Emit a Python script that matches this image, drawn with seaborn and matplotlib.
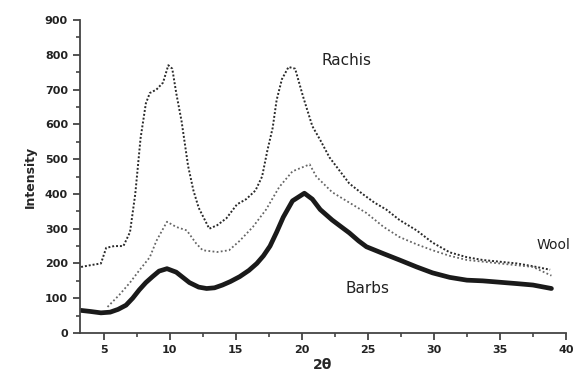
import numpy as np
import pandas as pd
import matplotlib
matplotlib.use('Agg')
import matplotlib.pyplot as plt
from matplotlib.ticker import MultipleLocator
import seaborn as sns

# values
rachis_x = [3.3, 4.0, 4.8, 5.2, 5.8, 6.5, 7.0, 7.4, 7.8, 8.2, 8.5, 9.0, 9.5, 9.9, 10.2,
            10.5, 10.9, 11.4, 11.8, 12.2, 12.6, 13.0, 13.6, 14.3, 15.1, 15.8, 16.5, 17.0,
            17.4, 17.8, 18.1, 18.5, 19.0, 19.5, 20.1, 20.8, 21.4, 22.1, 22.9, 23.6, 24.6,
            25.5, 26.4, 27.4, 28.7, 29.9, 31.2, 32.5, 33.7, 35.0, 36.3, 37.5, 38.8]
rachis_y = [190, 195, 200, 245, 250, 250, 290, 400, 560, 660, 690, 700, 720, 770, 760,
            690, 610, 480, 410, 360, 330, 300, 310, 330, 370, 385, 410, 450,
            525, 590, 670, 730, 765, 760, 680, 595, 555, 505, 465, 430, 400,
            375, 355, 325, 295, 260, 232, 218, 210, 205, 200, 192, 182]

wool_x = [5.3, 6.2, 7.0, 7.7, 8.5, 9.0, 9.8, 10.5, 11.3, 12.0, 12.5, 13.6, 14.5, 15.3,
          16.3, 17.3, 18.3, 19.3, 20.6, 21.1, 22.3, 23.6, 24.9, 26.2, 27.4, 28.7, 29.9,
          31.2, 32.5, 35.0, 37.5, 38.9]
wool_y = [75, 110, 145, 180, 218, 265, 320, 305, 295, 258, 238, 233, 238, 265,
          305, 355, 420, 465, 485, 450, 405, 375, 345, 305, 276, 255, 238,
          222, 210, 200, 190, 165]

barbs_x = [3.3, 4.0, 4.8, 5.5, 6.1, 6.7, 7.2, 7.7, 8.2, 8.7, 9.2, 9.8, 10.5, 11.0, 11.5,
           12.2, 12.8, 13.4, 14.0, 14.6, 15.3, 16.0, 16.6, 17.1, 17.6, 18.1, 18.6, 19.3,
           20.2, 20.8, 21.4, 22.3, 23.0, 23.6, 24.3, 24.9, 26.2, 27.4, 28.7, 29.9, 31.2,
           32.5, 33.7, 35.0, 36.3, 37.5, 38.9]
barbs_y = [65, 62, 58, 60, 68, 80, 100, 124, 145, 162, 178, 185, 175, 160, 145,
           132, 128, 130, 138, 148, 162, 180, 200, 222, 250, 290, 333, 380,
           402, 385, 355, 325, 305, 288, 265, 248, 228, 210, 190, 173, 160,
           152, 150, 146, 142, 138, 128]

sns.set_style('ticks')
plt.rcParams['font.family'] = ['DejaVu Sans']

fig = plt.figure(figsize=(5.74, 3.78), dpi=100)
ax = fig.add_axes([0.139, 0.119, 0.847, 0.828])

sns.lineplot(x=rachis_x, y=rachis_y, ax=ax, color='#2a2a2a', lw=1.4, linestyle=(0, (1, 1)))
sns.lineplot(x=wool_x, y=wool_y, ax=ax, color='#666666', lw=1.3, linestyle=(0, (1, 1.3)))
sns.lineplot(x=barbs_x, y=barbs_y, ax=ax, color='#1a1a1a', lw=3.4)

ax.set_xlim(3.2, 40)
ax.set_ylim(0, 900)
ax.xaxis.set_major_locator(MultipleLocator(5))
ax.xaxis.set_minor_locator(MultipleLocator(2.5))
ax.yaxis.set_major_locator(MultipleLocator(100))
ax.yaxis.set_minor_locator(MultipleLocator(50))
ax.tick_params(which='major', length=5, width=1.3, colors='#444444', labelcolor='#222222',
               labelsize=8)
ax.tick_params(which='minor', length=3, width=1.2, colors='#444444')
for lab in ax.get_xticklabels() + ax.get_yticklabels():
    lab.set_fontweight('bold')
sns.despine(ax=ax)
for s in ['left', 'bottom']:
    ax.spines[s].set_linewidth(1.3)
    ax.spines[s].set_color('#444444')

ax.set_xlabel('2θ', fontsize=10, fontweight='bold', labelpad=2)
ax.set_ylabel('Intensity', fontsize=9, fontweight='bold', labelpad=6)

ax.text(23.4, 784, 'Rachis', fontsize=11, ha='center', va='center', color='#222222')
ax.text(40.35, 253, 'Wool', fontsize=10, ha='right', va='center', color='#222222',
        clip_on=False)
ax.text(25.0, 129, 'Barbs', fontsize=11, ha='center', va='center', color='#222222')

fig.savefig('out.png', dpi=100)
